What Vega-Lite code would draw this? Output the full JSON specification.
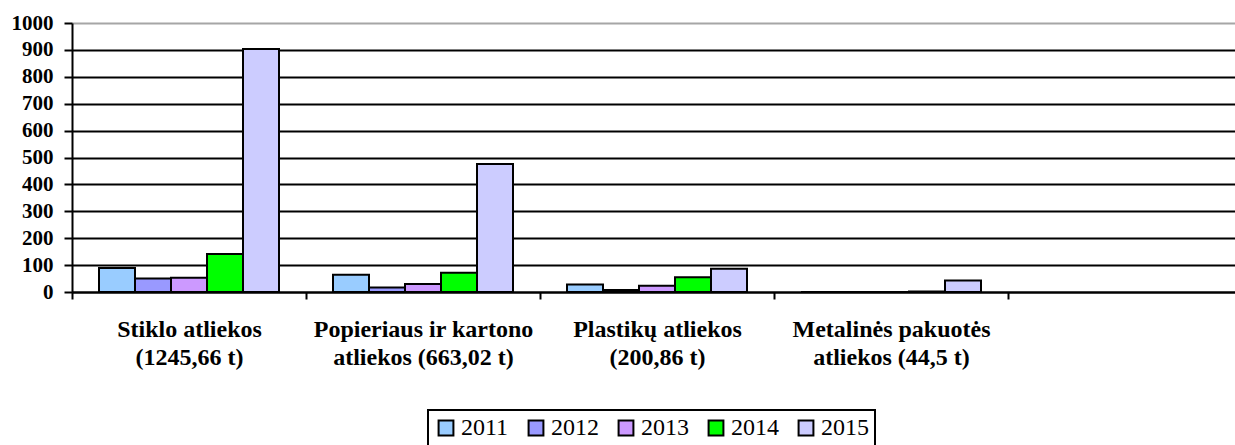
{
  "$schema": "https://vega.github.io/schema/vega-lite/v6.json",
  "width": 1170,
  "height": 269,
  "autosize": {"type": "none"},
  "padding": {"left": 72, "top": 23, "right": 0, "bottom": 153},
  "background": "white",
  "config": {"view": {"stroke": null}, "font": "Times New Roman, Liberation Serif, serif"},
  "data": {
    "values": [
      {"category": "Stiklo atliekos|(1245,66 t)", "year": "2011", "value": 89},
      {"category": "Stiklo atliekos|(1245,66 t)", "year": "2012", "value": 50},
      {"category": "Stiklo atliekos|(1245,66 t)", "year": "2013", "value": 53},
      {"category": "Stiklo atliekos|(1245,66 t)", "year": "2014", "value": 141},
      {"category": "Stiklo atliekos|(1245,66 t)", "year": "2015", "value": 903},
      {"category": "Popieriaus ir kartono|atliekos (663,02 t)", "year": "2011", "value": 64},
      {"category": "Popieriaus ir kartono|atliekos (663,02 t)", "year": "2012", "value": 17},
      {"category": "Popieriaus ir kartono|atliekos (663,02 t)", "year": "2013", "value": 30},
      {"category": "Popieriaus ir kartono|atliekos (663,02 t)", "year": "2014", "value": 72},
      {"category": "Popieriaus ir kartono|atliekos (663,02 t)", "year": "2015", "value": 476},
      {"category": "Plastikų atliekos|(200,86 t)", "year": "2011", "value": 28},
      {"category": "Plastikų atliekos|(200,86 t)", "year": "2012", "value": 7},
      {"category": "Plastikų atliekos|(200,86 t)", "year": "2013", "value": 23},
      {"category": "Plastikų atliekos|(200,86 t)", "year": "2014", "value": 55},
      {"category": "Plastikų atliekos|(200,86 t)", "year": "2015", "value": 86},
      {"category": "Metalinės pakuotės|atliekos (44,5 t)", "year": "2011", "value": 0},
      {"category": "Metalinės pakuotės|atliekos (44,5 t)", "year": "2012", "value": 0},
      {"category": "Metalinės pakuotės|atliekos (44,5 t)", "year": "2013", "value": 0},
      {"category": "Metalinės pakuotės|atliekos (44,5 t)", "year": "2014", "value": 1.5},
      {"category": "Metalinės pakuotės|atliekos (44,5 t)", "year": "2015", "value": 43}
    ]
  },
  "mark": {"type": "bar", "stroke": "black", "strokeWidth": 2},
  "encoding": {
    "x": {
      "field": "category",
      "type": "nominal",
      "sort": null,
      "scale": {
        "domain": ["Stiklo atliekos|(1245,66 t)", "Popieriaus ir kartono|atliekos (663,02 t)", "Plastikų atliekos|(200,86 t)", "Metalinės pakuotės|atliekos (44,5 t)", " "],
        "paddingInner": 0,
        "paddingOuter": 0
      },
      "axis": {
        "title": null,
        "grid": false,
        "labelAngle": 0,
        "labelExpr": "split(datum.label, '|')",
        "labelFont": "Times New Roman, Liberation Serif, serif",
        "labelFontWeight": "bold",
        "labelFontSize": 24,
        "labelLineHeight": 28,
        "labelLimit": 0,
        "labelColor": "black",
        "labelPadding": 18,
        "labelBaseline": "top",
        "tickBand": "extent",
        "tickColor": "black",
        "tickWidth": 2,
        "tickSize": 7,
        "domainColor": "black",
        "domainWidth": 2
      }
    },
    "xOffset": {
      "field": "year",
      "type": "nominal",
      "scale": {"paddingInner": 0, "paddingOuter": 0.75}
    },
    "y": {
      "field": "value",
      "type": "quantitative",
      "scale": {"domain": [0, 1000], "nice": false},
      "axis": {
        "title": null,
        "values": [0, 100, 200, 300, 400, 500, 600, 700, 800, 900, 1000],
        "format": "d",
        "labelFont": "Times New Roman, Liberation Serif, serif",
        "labelFontWeight": "bold",
        "labelFontSize": 21,
        "labelColor": "black",
        "labelPadding": 11,
        "labelBound": false,
        "labelFlush": false,
        "tickSize": 8,
        "tickWidth": 2,
        "tickColor": "black",
        "domainColor": "black",
        "domainWidth": 2,
        "grid": true,
        "gridWidth": 2,
        "gridColor": {"condition": {"test": "datum.value == 1000", "value": "#a6a6a6"}, "value": "black"}
      }
    },
    "color": {
      "field": "year",
      "type": "nominal",
      "scale": {
        "domain": ["2011", "2012", "2013", "2014", "2015"],
        "range": ["#99CCFF", "#9999FF", "#CC99FF", "#00FF00", "#CCCCFF"]
      },
      "legend": {
        "title": null,
        "orient": "none",
        "legendX": 356,
        "legendY": 387,
        "direction": "horizontal",
        "labelFont": "Times New Roman, Liberation Serif, serif",
        "labelFontSize": 24,
        "labelColor": "black",
        "labelOffset": 3,
        "symbolType": "square",
        "symbolSize": 220,
        "symbolStrokeColor": "black",
        "symbolStrokeWidth": 2,
        "symbolOpacity": 1,
        "columnPadding": 15,
        "strokeColor": "black",
        "padding": 6,
        "encode": {"legend": {"update": {"strokeWidth": {"value": 2}}}}
      }
    }
  }
}
